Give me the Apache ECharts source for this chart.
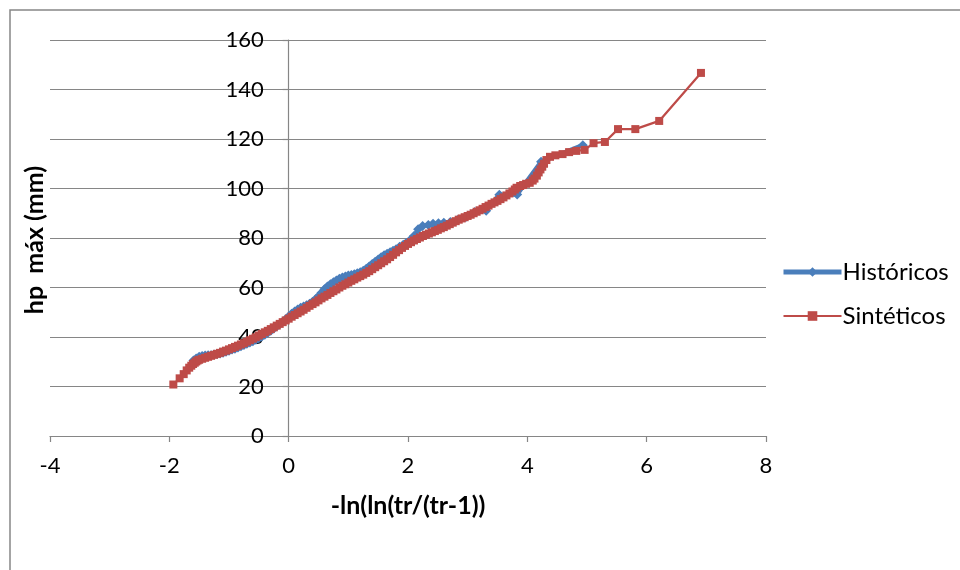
<!DOCTYPE html>
<html>
<head>
<meta charset="utf-8">
<script src="https://cdn.jsdelivr.net/npm/echarts@6/dist/echarts.min.js"></script>
<style>
  html, body { margin: 0; padding: 0; background: #ffffff; }
  #chart { width: 960px; height: 570px; }
</style>
</head>
<body>
<div id="chart"></div>
<script>
// Gumbel reduced variate -ln(ln(tr/(tr-1))) against maximum rainfall depth (mm)
const seriesNames = ['Históricos', 'Sintéticos'];

// Historical record
const histX = [-1.596, -1.55, -1.50, -1.45, -1.40, -1.35, -1.30, -1.25, -1.20, -1.15,
  -1.10, -1.05, -1.00, -0.95, -0.90, -0.85, -0.80, -0.75, -0.70, -0.65,
  -0.60, -0.55, -0.50, -0.45, -0.40, -0.35, -0.30, -0.25, -0.20, -0.15,
  -0.10, -0.05, 0.00, 0.05, 0.10, 0.15, 0.20, 0.25, 0.30, 0.35,
  0.40, 0.45, 0.50, 0.55, 0.60, 0.65, 0.70, 0.75, 0.80, 0.85,
  0.90, 0.95, 1.00, 1.05, 1.10, 1.15, 1.20, 1.25, 1.30, 1.35,
  1.40, 1.45, 1.50, 1.55, 1.60, 1.65, 1.70, 1.75, 1.80, 1.86,
  1.92, 1.97, 2.04, 2.10, 2.17, 2.245, 2.34, 2.42, 2.51, 2.60,
  2.71, 2.83, 2.97, 3.12, 3.31, 3.53, 3.83, 4.23, 4.93];
const histY = [30.5, 31.3, 32.0, 32.3, 32.5, 32.6, 32.6, 32.9, 33.1, 33.3,
  33.6, 34.0, 34.4, 34.9, 35.3, 35.8, 36.3, 36.8, 37.3, 37.8,
  38.3, 38.9, 39.5, 40.2, 40.9, 41.7, 42.5, 43.4, 44.3, 45.2,
  46.2, 47.2, 48.3, 49.4, 50.3, 51.1, 51.8, 52.3, 52.8, 53.4,
  54.2, 55.3, 56.5, 57.9, 59.3, 60.4, 61.3, 62.1, 62.8, 63.5,
  64.0, 64.4, 64.8, 65.1, 65.4, 65.8, 66.2, 66.8, 67.6, 68.5,
  69.5, 70.4, 71.3, 72.2, 73.0, 73.6, 74.2, 74.8, 75.5, 76.5,
  77.3, 78.0, 79.3, 80.8, 83.5, 84.8, 85.3, 85.8, 86.0, 86.2,
  86.5, 87.3, 88.5, 90.5, 91.0, 97.5, 97.6, 110.8, 117.5];

// Synthetic series
const synthX = [-1.933, -1.827, -1.759, -1.709, -1.667, -1.632, -1.602, -1.574, -1.550, -1.527,
  -1.50, -1.45, -1.40, -1.35, -1.30, -1.25, -1.20, -1.15, -1.10, -1.05,
  -1.00, -0.95, -0.90, -0.85, -0.80, -0.75, -0.70, -0.65, -0.60, -0.55,
  -0.50, -0.45, -0.40, -0.35, -0.30, -0.25, -0.20, -0.15, -0.10, -0.05,
  0.00, 0.05, 0.10, 0.15, 0.20, 0.25, 0.30, 0.35, 0.40, 0.45,
  0.50, 0.55, 0.60, 0.65, 0.70, 0.75, 0.80, 0.85, 0.90, 0.95,
  1.00, 1.05, 1.10, 1.15, 1.20, 1.25, 1.30, 1.35, 1.40, 1.45,
  1.50, 1.55, 1.60, 1.65, 1.70, 1.75, 1.80, 1.85, 1.90, 1.95,
  2.00, 2.05, 2.10, 2.15, 2.20, 2.25, 2.30, 2.35, 2.40, 2.45,
  2.50, 2.55, 2.60, 2.65, 2.70, 2.75, 2.80, 2.85, 2.90, 2.95,
  3.00, 3.05, 3.10, 3.15, 3.20, 3.25, 3.30, 3.35, 3.40, 3.45,
  3.50, 3.55, 3.60, 3.65, 3.70, 3.75, 3.79, 3.82, 3.88, 3.93,
  3.98, 4.04, 4.09, 4.12, 4.16, 4.19, 4.22, 4.25, 4.28, 4.32,
  4.38, 4.47, 4.59, 4.70, 4.82, 4.96, 5.11, 5.30, 5.52, 5.81,
  6.21, 6.91];
const synthY = [20.8, 23.3, 25.0, 26.5, 27.6, 28.4, 29.1, 29.6, 30.1, 30.5,
  30.8, 31.2, 31.6, 32.0, 32.4, 32.8, 33.2, 33.6, 34.1, 34.5,
  35.0, 35.5, 36.0, 36.5, 37.0, 37.5, 38.1, 38.7, 39.3, 39.9,
  40.6, 41.2, 41.9, 42.5, 43.2, 43.9, 44.6, 45.3, 46.0, 46.7,
  47.4, 48.2, 48.9, 49.6, 50.3, 51.0, 51.8, 52.6, 53.3, 54.0,
  54.8, 55.6, 56.3, 57.0, 57.8, 58.5, 59.2, 60.0, 60.7, 61.3,
  62.0, 62.7, 63.3, 64.0, 64.6, 65.2, 65.9, 66.6, 67.4, 68.2,
  69.0, 69.8, 70.6, 71.4, 72.3, 73.2, 74.2, 75.1, 76.0, 76.8,
  77.6, 78.3, 79.0, 79.6, 80.2, 80.8, 81.3, 81.8, 82.3, 82.8,
  83.3, 83.9, 84.4, 85.0, 85.6, 86.2, 86.8, 87.4, 87.9, 88.4,
  88.9, 89.4, 90.0, 90.6, 91.2, 91.8, 92.5, 93.1, 93.8, 94.4,
  95.0, 95.7, 96.4, 97.2, 98.0, 98.8, 99.6, 100.3, 101.0, 101.4,
  101.9, 102.3, 103.2, 104.0, 105.2, 106.5, 107.7, 108.8, 110.0, 111.5,
  112.8, 113.4, 113.9, 114.7, 115.2, 115.6, 118.3, 118.8, 124.0, 124.0,
  127.3, 146.7];

const xAxisTitle = '-ln(ln(tr/(tr-1))';
const yAxisTitle = 'hp  máx (mm)';

const FONT = 'Lato, "Noto Sans", sans-serif';
const GRID_GRAY = '#868686';
const BLUE = '#4A7EBB';
const RED = '#BE4B48';

// plot box
const GRID = { left: 50, right: 194, top: 40, bottom: 134 };
const X_MIN = -4, X_MAX = 8;
// shift the value axis so it sits on x = 0
const yAxisShift = (0 - X_MIN) / (X_MAX - X_MIN) * (960 - GRID.left - GRID.right);

const pairs = (xs, ys) => xs.map((x, i) => [x, ys[i]]);

const chart = echarts.init(document.getElementById('chart'), null, { renderer: 'canvas' });
chart.setOption({
  animation: false,
  backgroundColor: '#ffffff',
  textStyle: { fontFamily: FONT },
  grid: Object.assign({ containLabel: false, outerBoundsMode: 'none' }, GRID),
  xAxis: {
    type: 'value',
    min: X_MIN, max: X_MAX, interval: 2,
    name: xAxisTitle,
    nameLocation: 'middle',
    nameGap: 57,
    nameTextStyle: { fontFamily: FONT, fontSize: 25, fontWeight: 'bold', color: '#000' },
    axisLine: { onZero: false, lineStyle: { color: GRID_GRAY, width: 1.2 } },
    axisTick: { show: true, inside: false, length: 6, lineStyle: { color: GRID_GRAY, width: 1.2 } },
    axisLabel: { fontFamily: FONT, fontSize: 22, color: '#000', margin: 19 },
    splitLine: { show: false }
  },
  yAxis: {
    type: 'value',
    min: 0, max: 160, interval: 20,
    offset: -yAxisShift,
    axisLine: { show: true, onZero: false, lineStyle: { color: GRID_GRAY, width: 1.2 } },
    axisTick: { show: true, inside: false, length: 6, lineStyle: { color: GRID_GRAY, width: 1.2 } },
    axisLabel: { fontFamily: FONT, fontSize: 22, color: '#000', margin: 25 },
    splitLine: { show: true, lineStyle: { color: GRID_GRAY, width: 1.2 } }
  },
  legend: {
    orient: 'vertical',
    left: 776,
    top: 255,
    itemWidth: 58,
    itemHeight: 12,
    itemGap: 20,
    textStyle: { fontFamily: FONT, fontSize: 24, color: '#000', padding: [0, 0, 0, -4] },
    data: [
      { name: seriesNames[0], lineStyle: { width: 5, color: BLUE }, itemStyle: { color: BLUE } },
      { name: seriesNames[1], lineStyle: { width: 2, color: RED }, itemStyle: { color: RED } }
    ]
  },
  graphic: [
    {
      type: 'rect',
      shape: { x: 10, y: 10, width: 980, height: 600 },
      style: { fill: 'none', stroke: GRID_GRAY, lineWidth: 1.5 },
      silent: true
    },
    {
      type: 'text',
      x: 35, y: 240,
      rotation: Math.PI / 2,
      style: {
        text: yAxisTitle,
        font: 'bold 25px ' + FONT,
        fill: '#000',
        align: 'center',
        verticalAlign: 'middle'
      }
    }
  ],
  series: [
    {
      name: seriesNames[0],
      type: 'line',
      data: pairs(histX, histY),
      symbol: 'diamond',
      symbolSize: 10,
      showSymbol: true,
      itemStyle: { color: BLUE },
      lineStyle: { color: BLUE, width: 4.5 },
      z: 2
    },
    {
      name: seriesNames[1],
      type: 'line',
      data: pairs(synthX, synthY),
      symbol: 'rect',
      symbolSize: 8,
      showSymbol: true,
      itemStyle: { color: RED },
      lineStyle: { color: RED, width: 2.25 },
      z: 3
    }
  ]
});
</script>
</body>
</html>
